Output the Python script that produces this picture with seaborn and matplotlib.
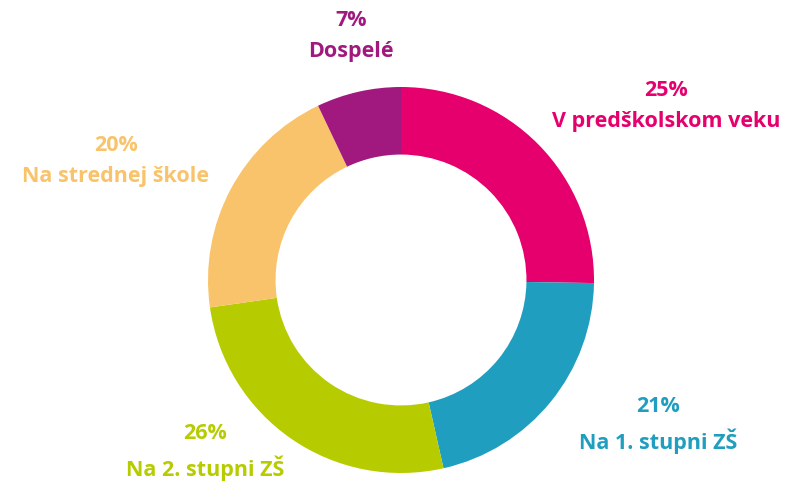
import matplotlib
matplotlib.use('Agg')
import seaborn as sns
import matplotlib.pyplot as plt

labels = ['V predškolskom veku', 'Na 1. stupni ZŠ', 'Na 2. stupni ZŠ', 'Na strednej škole', 'Dospelé']
values = [25, 21, 26, 20, 7]
colors = ['#E5006D', '#1F9EBF', '#B6CC00', '#F9C36B', '#A1197F']

sns.set_theme(style='white')
plt.rcParams['font.family'] = ['Open Sans', 'DejaVu Sans']

fig = plt.figure(figsize=(7.85, 4.83), dpi=100)
ax = fig.add_axes([0, 0, 1, 1])

ax.pie(values, colors=colors, startangle=90, counterclock=False,
       radius=1, wedgeprops=dict(width=0.35, edgecolor='none'))

# label positions in pixel coords of the reference (center 401,280; r=193px)
pos = [(666, 106), (658, 425), (205, 452), (116, 161), (351, 36)]
for lab, val, col, (px, py) in zip(labels, values, colors, pos):
    x = (px - 401) / 193
    y = (280 - py) / 193
    ax.text(x, y, f'{val}%\n{lab}', color=col, ha='center', va='center',
            fontsize=15.5, fontweight='bold', linespacing=1.6)

ax.set_xlim(-401 / 193, (785 - 401) / 193)
ax.set_ylim(-203 / 193, 280 / 193)
ax.set_aspect('equal')
ax.axis('off')

fig.savefig('out.png', dpi=100)
